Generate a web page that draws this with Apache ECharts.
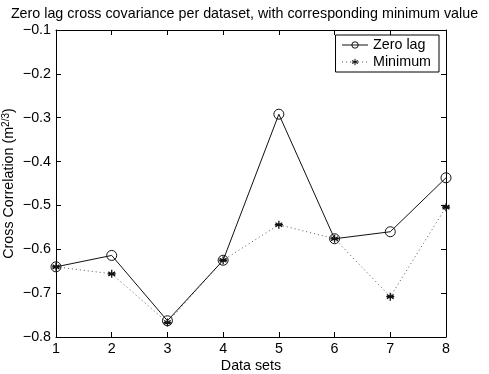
<!DOCTYPE html>
<html><head><meta charset="utf-8">
<script src="https://cdn.jsdelivr.net/npm/echarts@6/dist/echarts.min.js"></script>
<style>html,body{margin:0;padding:0;background:#fff}#c{width:489px;height:374px}</style>
</head><body><div id="c"></div>
<script>
const datasets = [1, 2, 3, 4, 5, 6, 7, 8];
const zeroLag = [-0.640, -0.614, -0.763, -0.625, -0.292, -0.576, -0.560, -0.437];
const minimum = [-0.640, -0.656, -0.767, -0.625, -0.544, -0.576, -0.708, -0.504];
const yTicks = [-0.8, -0.7, -0.6, -0.5, -0.4, -0.3, -0.2, -0.1];

const FONT = 'Liberation Sans, Arial, sans-serif';
const FS = 14.3;
const fmtY = v => (v < 0 ? '\u2212' : '') + Math.abs(v).toFixed(1);
const star = 'path://M5,0 L5,10 M0.7,2.5 L9.3,7.5 M0.7,7.5 L9.3,2.5 M0,5 L10,5';

const chart = echarts.init(document.getElementById('c'), null, {renderer: 'canvas'});
const axisCommon = {
  axisLine: {show: true, onZero: false, lineStyle: {color: '#000', width: 1}},
  axisTick: {show: true, inside: true, length: 5, lineStyle: {color: '#000'}},
  splitLine: {show: false}
};
chart.setOption({
  backgroundColor: '#fff',
  animation: false,
  title: {
    text: 'Zero lag cross covariance per dataset, with corresponding minimum value',
    left: 'center', top: 2,
    textStyle: {fontFamily: FONT, fontSize: FS, fontWeight: 'normal', color: '#000'}
  },
  grid: {left: 56, right: 43, top: 30, bottom: 37, containLabel: false, outerBoundsMode: 'none'},
  legend: {
    right: 50, top: 35, orient: 'vertical',
    backgroundColor: '#fff', borderColor: '#000', borderWidth: 1,
    padding: [2, 8, 2, 6], itemGap: 1, itemWidth: 26, itemHeight: 8,
    textStyle: {fontFamily: FONT, fontSize: FS, color: '#000', lineHeight: 16},
    lineStyle: {width: 1},
    itemStyle: {borderWidth: 1},
    data: ['Zero lag', 'Minimum']
  },
  xAxis: [
    Object.assign({}, axisCommon, {
      type: 'value', min: 1, max: 8, interval: 1, position: 'bottom',
      name: 'Data sets', nameLocation: 'middle', nameGap: 22, nameMoveOverlap: false,
      nameTextStyle: {fontFamily: FONT, fontSize: FS, color: '#000'},
      axisLabel: {fontFamily: FONT, fontSize: FS, color: '#000', margin: 5}
    }),
    Object.assign({}, axisCommon, {
      type: 'value', min: 1, max: 8, interval: 1, position: 'top',
      axisLabel: {show: false}
    })
  ],
  yAxis: [
    Object.assign({}, axisCommon, {
      type: 'value', min: -0.8, max: -0.1, interval: 0.1, position: 'left',
      name: '{a|Cross Correlation (m}{s|2/3}{a|)}', nameLocation: 'middle', nameGap: 38,
      nameMoveOverlap: false,
      nameTextStyle: {
        rich: {
          a: {fontFamily: FONT, fontSize: FS, color: '#000'},
          s: {fontFamily: FONT, fontSize: 10, color: '#000', verticalAlign: 'top', padding: [0, 0, 7, 0]}
        }
      },
      axisLabel: {fontFamily: FONT, fontSize: FS, color: '#000', margin: 5, formatter: fmtY}
    }),
    Object.assign({}, axisCommon, {
      type: 'value', min: -0.8, max: -0.1, interval: 0.1, position: 'right',
      axisLabel: {show: false}
    })
  ],
  series: [
    {
      name: 'Zero lag', type: 'line',
      data: datasets.map((d, i) => [d, zeroLag[i]]),
      symbol: 'circle', symbolSize: 10, showSymbol: true,
      lineStyle: {color: '#111', width: 1},
      itemStyle: {color: 'rgba(255,255,255,0)', borderColor: '#111', borderWidth: 1},
      emphasis: {disabled: true},
      z: 3
    },
    {
      name: 'Minimum', type: 'line',
      data: datasets.map((d, i) => [d, minimum[i]]),
      symbol: star, symbolSize: 8,
      lineStyle: {color: '#555', width: 1, type: [1, 3]},
      itemStyle: {color: '#111', borderColor: '#111', borderWidth: 1.3},
      emphasis: {disabled: true},
      z: 2
    }
  ]
});
</script></body></html>
